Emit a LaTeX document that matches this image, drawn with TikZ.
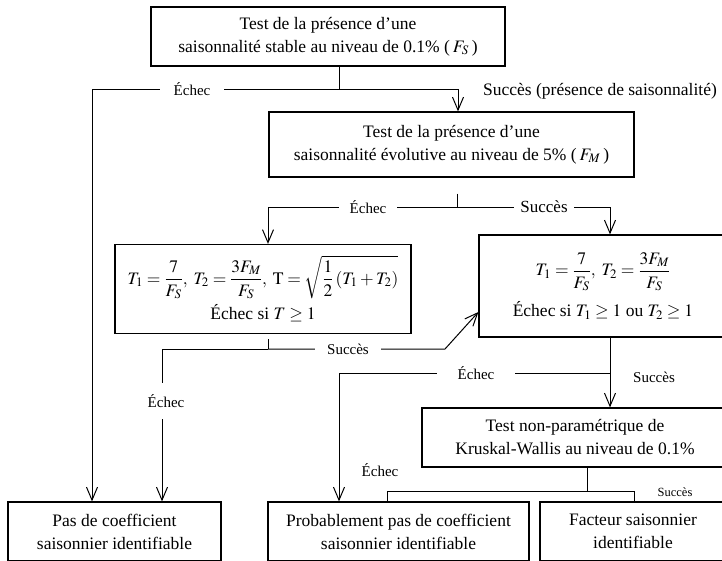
\documentclass[tikz,border=0pt]{standalone}
\usepackage{amsmath}
\usepackage{mathptmx}
\usepackage{fontspec}
\setmainfont{Liberation Serif}
\usetikzlibrary{arrows.meta}

\tikzset{
  boite/.style={draw, line width=1.2pt, align=center, inner sep=0pt,
    font=\fontsize{17.5}{23}\selectfont},
  lab/.style={inner sep=0pt, font=\fontsize{15}{18}\selectfont},
  etiq/.style={lab, fill=white, inner xsep=12pt, inner ysep=2pt},
  lien/.style={line width=1pt},
}

\begin{document}
\begin{tikzpicture}[x=1pt, y=-1pt, >={Straight Barb[length=13pt,width=11pt]}]

    \useasboundingbox (0,0) rectangle (722,560);

    % ================================================================================================
    % Tests
    % ================================================================================================
    \node [boite, minimum width=354pt, minimum height=59pt] (stable) at (328,36.5)
    {Test de la présence d’une\\saisonnalité stable au niveau de 0.1\% (\,$F_S$\,)};

    \node [boite, minimum width=365pt, minimum height=65pt] (evolutive) at (451.5,144.5)
    {Test de la présence d’une\\saisonnalité évolutive au niveau de 5\% (\,$F_M$\,)};

    \node [boite, minimum width=296pt, minimum height=89pt] (tgauche) at (263,289)
    {$T_1 = \dfrac{7}{F_S},\; T_2 = \dfrac{3F_M}{F_S},\; \mathrm{T} = \sqrt{\dfrac{1}{2}\left(T_1 + T_2\right)}$\\[5pt]
     Échec si $T \geq 1$};

    \node [boite, minimum width=248pt, minimum height=102pt] (tdroite) at (603,286)
    {$T_1 = \dfrac{7}{F_S},\; T_2 = \dfrac{3F_M}{F_S}$\\[10pt]
     Échec si $T_1 \geq 1$ ou $T_2 \geq 1$};

    \node [boite, minimum width=306pt, minimum height=59pt] (kruskal) at (575,437.5)
    {Test non-paramétrique de\\Kruskal-Wallis au niveau de 0.1\%};

    % ================================================================================================
    % Conclusions
    % ================================================================================================
    \node [boite, minimum width=213pt, minimum height=59pt] (aucun) at (114.5,531.5)
    {Pas de coefficient\\saisonnier identifiable};

    \node [boite, minimum width=261pt, minimum height=59pt] (probable) at (398.5,531.5)
    {Probablement pas de coefficient\\saisonnier identifiable};

    \node [boite, minimum width=186pt, minimum height=59pt] (facteur) at (633,531.5)
    {Facteur saisonnier\\identifiable};

    % ================================================================================================
    % Embranchements
    % ================================================================================================
    \coordinate (j1) at (339,89);
    \coordinate (j2) at (457,207);
    \coordinate (j3) at (268,349);
    \coordinate (k3) at (445,349);
    \coordinate (j4) at (610,373);
    \coordinate (j5) at (587,491);

    % ================================================================================================
    % Connexions
    % ================================================================================================
    \draw [lien] (stable.south -| j1) -- (j1);
    \draw [lien,->] (j1) -| ([xshift=-22.5pt]aucun.north);
    \draw [lien,->] (j1) -| ([xshift=6.5pt]evolutive.north);

    \draw [lien] ([yshift=-16pt]evolutive.south -| j2) -- (j2);
    \draw [lien,->] (j2) -| ([xshift=5pt]tgauche.north);
    \draw [lien,->] (j2) -| ([xshift=7pt]tdroite.north);

    \draw [lien] ([yshift=-5pt]tgauche.south -| j3) -- (j3);
    \draw [lien,->] (j3) -| ([xshift=47.5pt]aucun.north);
    \draw [lien,->] (j3) -- (k3) -- ([yshift=-26pt]tdroite.west);

    \draw [lien,->] (tdroite.south -| j4) -- (kruskal.north -| j4);
    \draw [lien,->] (j4) -| ([xshift=-59.5pt]probable.north);

    \draw [lien] (kruskal.south -| j5) -- (j5);
    \draw [lien] (j5) -| ([xshift=-11.5pt]probable.north);
    \draw [lien] (j5) -| ([xshift=1pt]facteur.north);

    % ================================================================================================
    % Etiquettes
    % ================================================================================================
    \node [etiq, inner xsep=14pt] (e1) at (192,89) {Échec};
    \node [lab, font=\fontsize{17.5}{20}\selectfont] (s1) at (600,91) {Succès (présence de saisonnalité)};

    \node [etiq, inner xsep=11pt] (e2) at (368,207) {Échec};
    \node [etiq, inner xsep=6pt, font=\fontsize{17}{20}\selectfont] (s2) at (544,207) {Succès};

    \node [etiq, inner xsep=2pt, inner ysep=11pt] (e3) at (166,401) {Échec};
    \node [etiq] (s3) at (348,349) {Succès};

    \node [etiq, inner xsep=21pt] (e4) at (476,373) {Échec};
    \node [lab] (s4) at (654,377) {Succès};

    \node [lab] (e5) at (380,470) {Échec};
    \node [lab, font=\fontsize{12.5}{15}\selectfont] (s5) at (675,492) {Succès};

  \end{tikzpicture}
\end{document}
